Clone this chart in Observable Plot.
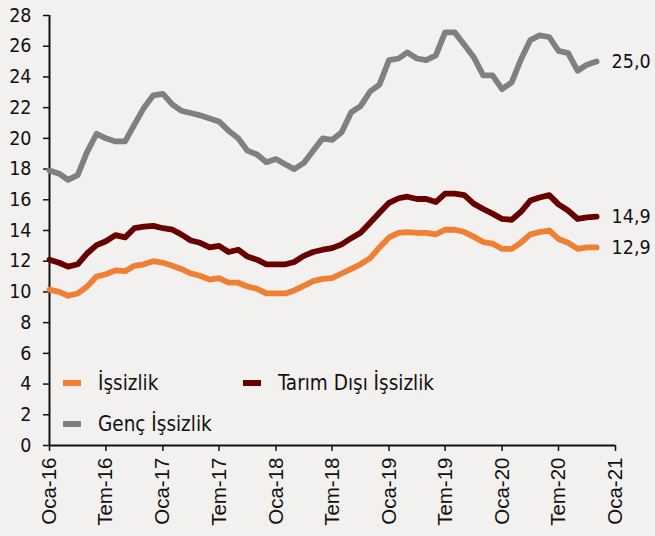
<!DOCTYPE html>
<html>
<head>
<meta charset="utf-8">
<script src="https://cdn.jsdelivr.net/npm/d3@7"></script>
<script src="https://cdn.jsdelivr.net/npm/@observablehq/plot@0.6"></script>
<style>
  html, body { margin: 0; padding: 0; background: #F2F1EF; }
  #wrap { position: relative; width: 655px; height: 536px; background: #F2F1EF; }
  .leg { position: absolute; font-family: "DejaVu Sans Condensed", "DejaVu Sans", sans-serif; font-stretch: condensed; font-size: 20.5px; color: #111; display: flex; align-items: center; white-space: nowrap; }
  .sw { display: inline-block; width: 18px; height: 6px; margin-right: 17px; }
</style>
</head>
<body>
<div id="wrap"></div>
<script>
const startYear = 2016, startMonth = 0;
const tickLabels = ["Oca-16","Tem-16","Oca-17","Tem-17","Oca-18","Tem-18","Oca-19","Tem-19","Oca-20","Tem-20","Oca-21"];
const seriesNames = ["İşsizlik", "Tarım Dışı İşsizlik", "Genç İşsizlik"];
const seriesColors = ["#EE7F33", "#680000", "#808080"];

const issizlik = [10.15,10.0,9.75,9.9,10.35,11.0,11.15,11.4,11.35,11.7,
  11.8,12.0,11.9,11.7,11.5,11.2,11.05,10.8,10.9,10.6,
  10.6,10.35,10.2,9.9,9.9,9.9,10.1,10.4,10.7,10.85,
  10.9,11.2,11.5,11.8,12.2,12.9,13.55,13.85,13.9,13.85,
  13.85,13.75,14.05,14.05,13.9,13.6,13.25,13.15,12.8,12.8,
  13.2,13.75,13.9,14.0,13.45,13.2,12.8,12.9,12.9];
const tarimDisi = [12.1,11.9,11.65,11.8,12.5,13.05,13.3,13.7,13.55,14.15,
  14.25,14.3,14.15,14.05,13.75,13.35,13.2,12.9,13.0,12.6,
  12.75,12.3,12.1,11.8,11.8,11.8,11.95,12.35,12.6,12.75,
  12.85,13.1,13.5,13.85,14.5,15.15,15.8,16.1,16.2,16.05,
  16.05,15.85,16.4,16.4,16.3,15.75,15.4,15.1,14.75,14.7,
  15.2,15.95,16.15,16.3,15.7,15.3,14.75,14.85,14.9];
const genc = [17.9,17.7,17.3,17.6,19.1,20.3,20.0,19.8,19.8,20.9,
  22.0,22.8,22.9,22.2,21.8,21.65,21.5,21.3,21.1,20.5,
  20.0,19.2,18.95,18.45,18.65,18.3,18.0,18.4,19.2,20.0,
  19.9,20.4,21.7,22.1,23.05,23.5,25.1,25.2,25.6,25.2,
  25.1,25.4,26.9,26.9,26.1,25.3,24.1,24.1,23.2,23.65,
  25.1,26.4,26.7,26.6,25.7,25.55,24.4,24.8,25.0];

const start = new Date(Date.UTC(startYear, startMonth, 1));
const month = i => d3.utcMonth.offset(start, i);
const allSeries = [issizlik, tarimDisi, genc];
const rows = allSeries.flatMap((vals, s) => vals.map((v, i) => ({date: month(i), value: v, series: seriesNames[s]})));
const lastRows = allSeries.map((vals, s) => ({date: month(vals.length - 1), value: vals[vals.length - 1], series: seriesNames[s]}));
const tickDates = tickLabels.map((t, k) => month(k * 6));
const fmt = v => d3.format(".1f")(v).replace(".", ",");
const condensed = "'DejaVu Sans Condensed', 'DejaVu Sans', sans-serif";

const chart = Plot.plot({
  width: 655,
  height: 536,
  marginLeft: 49,
  marginRight: 40,
  marginTop: 15,
  marginBottom: 91,
  style: {background: "#F2F1EF", color: "#111"},
  x: {type: "utc", domain: [tickDates[0], tickDates[tickDates.length - 1]]},
  y: {domain: [0, 28]},
  color: {domain: seriesNames, range: seriesColors},
  marks: [
    Plot.axisY({ticks: d3.range(0, 29, 2), tickSize: 6, tickPadding: 12, fontSize: 19.5, fontFamily: condensed, label: null, stroke: "#111", strokeWidth: 1.5}),
    Plot.axisX({ticks: tickDates, tickFormat: (d, i) => tickLabels[i], tickSize: 6, tickPadding: 6, tickRotate: -90, fontSize: 20.5, fontFamily: "'Liberation Sans', Arial, sans-serif", label: null, stroke: "#111", strokeWidth: 1.5}),
    Plot.ruleX([tickDates[0]], {stroke: "#111", strokeWidth: 2}),
    Plot.ruleY([0], {stroke: "#111", strokeWidth: 2}),
    Plot.line(rows, {x: "date", y: "value", z: "series", stroke: "series", strokeWidth: 5.8, strokeLinejoin: "round", strokeLinecap: "round", curve: "linear"}),
    Plot.text(lastRows, {x: "date", y: "value", text: d => fmt(d.value), dx: 15, textAnchor: "start", fontSize: 19.5, fontFamily: condensed, fill: "#111"})
  ]
});
const wrap = document.getElementById("wrap");
wrap.appendChild(chart);

const legendPos = [[63, 383], [243, 383], [63, 424]];
seriesNames.forEach((name, s) => {
  const el = document.createElement("div");
  el.className = "leg";
  el.style.left = legendPos[s][0] + "px";
  el.style.top = (legendPos[s][1] - 12) + "px";
  el.style.height = "24px";
  el.innerHTML = `<span class="sw" style="background:${seriesColors[s]}"></span><span>${name}</span>`;
  wrap.appendChild(el);
});
</script>
</body>
</html>
